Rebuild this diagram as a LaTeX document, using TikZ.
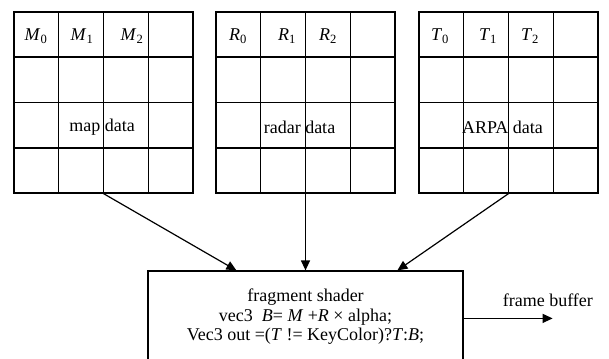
\documentclass[tikz,border=0pt]{standalone}
\usepackage{fontspec}
\setmainfont{Liberation Serif}
\usetikzlibrary{arrows.meta,calc}
\newcommand\sublbl[2]{\textit{#1}\textsubscript{#2}}
\begin{document}
\begin{tikzpicture}[x=1pt,y=-1pt,
  every node/.style={font=\fontsize{18}{19.5}\selectfont},
  gridbox/.style={draw,line width=1.2pt,minimum width=179pt,minimum height=181pt,inner sep=0pt},
  gridline/.style={line width=1.2pt},
  shaderbox/.style={draw,line width=1.2pt,minimum width=315pt,minimum height=100pt,inner sep=0pt},
  flow/.style={line width=1.2pt,-{Triangle[length=10pt,width=9pt]}}]
\useasboundingbox (0,0) rectangle (609,358);

% three 4x4 data grids
\foreach \name/\cx in {g1/103.5, g2/305.5, g3/508.5}{
  \node[gridbox] (\name) at (\cx,102.5) {};
  \foreach \i in {1,2,3}{
    \draw[gridline] ($(\name.north west)!\i/4!(\name.north east)$) -- ($(\name.south west)!\i/4!(\name.south east)$);
    \draw[gridline] ($(\name.north west)!\i/4!(\name.south west)$) -- ($(\name.north east)!\i/4!(\name.south east)$);
  }
}

% column labels
\node (m0) at (36,36) {\sublbl{M}{0}};
\node (m1) at (82,36) {\sublbl{M}{1}};
\node (m2) at (132,36) {\sublbl{M}{2}};
\node (r0) at (238,36) {\sublbl{R}{0}};
\node (r1) at (287,36) {\sublbl{R}{1}};
\node (r2) at (328,36) {\sublbl{R}{2}};
\node (t0) at (440,36) {\sublbl{T}{0}};
\node (t1) at (488,36) {\sublbl{T}{1}};
\node (t2) at (530,36) {\sublbl{T}{2}};

% data captions
\node (mapdata) at (102,127) {map data};
\node (radardata) at (299.5,127) {radar data};
\node (arpadata) at (502.5,127) {ARPA data};

% shader
\node[shaderbox] (sh) at (305.5,321) {};
\node[align=center,inner sep=0pt] (shtxt) at (305.5,317)
  {fragment shader\\
   vec3\ \ \textit{B}= \textit{M} +\textit{R} × alpha;\\
   Vec3 out =(\textit{T} != KeyColor)?\textit{T}:\textit{B};};

% data flow
\coordinate (inl) at ($(sh.north west)+(89,0)$);
\coordinate (inm) at (sh.north);
\coordinate (inr) at ($(sh.north west)+(250,0)$);
\draw[flow] (g1.south) -- (inl);
\draw[flow] (g2.south) -- (inm);
\draw[flow] (g3.south) -- (inr);

\coordinate (fbout) at ($(sh.north east)+(0,48)$);
\coordinate (fb) at ($(fbout)+(89,0)$);
\draw[flow] (fbout) -- (fb);
\node[anchor=south west,inner sep=0pt] (fblbl) at ($(fbout)+(39,-12)$) {frame buffer};
\end{tikzpicture}
\end{document}
